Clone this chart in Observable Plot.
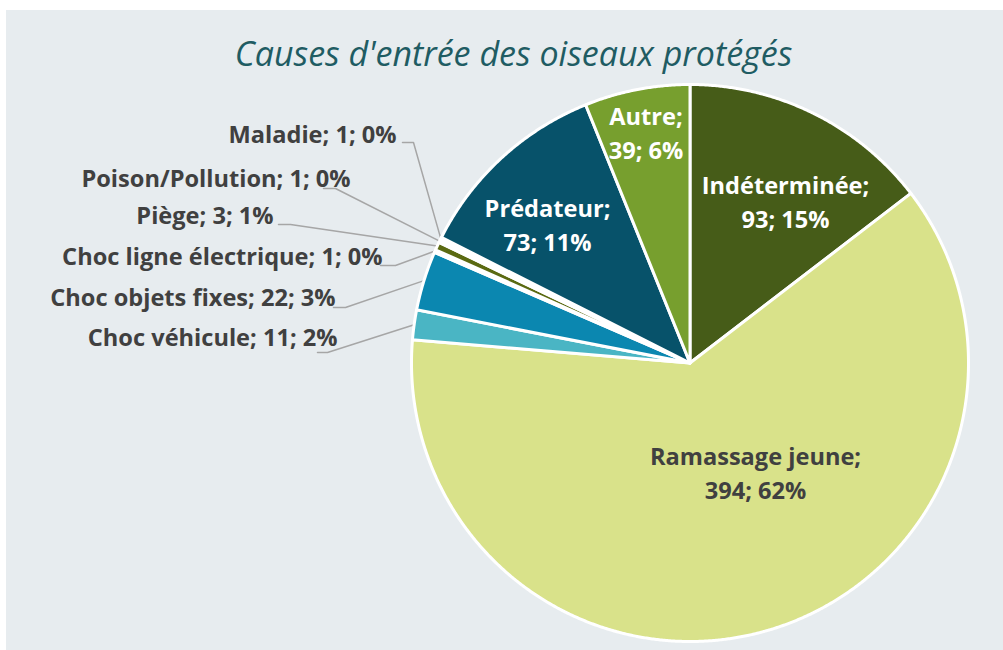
<!DOCTYPE html>
<html><head><meta charset="utf-8">
<script src="https://cdn.jsdelivr.net/npm/d3@7"></script>
<script src="https://cdn.jsdelivr.net/npm/@observablehq/plot@0.6"></script>
<style>
body{margin:0;background:#fff;}
#wrap{position:relative;width:1003px;height:650px;overflow:hidden;background:#fff;}
#panel{position:absolute;left:6px;top:10px;right:0;bottom:0;background:#e7ecef;}
#chart{position:absolute;left:0;top:0;}
</style></head><body><div id="wrap"><div id="panel"></div><div id="chart"></div></div>
<script>
// ---- data ----
const title = "Causes d'entrée des oiseaux protégés";
const categories = ["Indéterminée","Ramassage jeune","Choc véhicule","Choc objets fixes","Choc ligne électrique","Piège","Poison/Pollution","Maladie","Prédateur","Autre"];
const counts = [93, 394, 11, 22, 1, 3, 1, 1, 73, 39];
const percentLabels = ["15%","62%","2%","3%","0%","1%","0%","0%","11%","6%"];

// ---- styles ----
const colors = ["#465c18","#d9e28a","#4ab5c4","#0b87b0","#2f6f8f","#5b6a12","#8a9a3a","#9fb84a","#07526a","#779f2e"];
const W = 1003, H = 650;
const CX = 689.5, CY = 362.5, R = 278.5;   // pie placement in pixels
const FONT = "'Open Sans', sans-serif";
const LABEL_SIZE = 23.6;

// ---- layout (pie units; 1 = radius) ----
const toU = (px, py) => [(px - CX) / R, (CY - py) / R];
// inside labels: centre x, baseline of last line
const insideLabels = {
  "Indéterminée": {pos: toU(785, 227), fill: "white", text: "Indéterminée;\n93; 15%"},
  "Ramassage jeune": {pos: toU(755, 498), fill: "#404040", text: "Ramassage jeune;\n394; 62%"},
  "Prédateur": {pos: toU(547, 250), fill: "white", text: "Prédateur;\n73; 11%"},
  "Autre": {pos: toU(645.5, 158), fill: "white", text: "Autre;\n39; 6%"}
};
// outside labels: text right end + baseline, leader start, leader elbow
const outsideLabels = {
  "Maladie": {text: toU(396, 142), lead: [toU(402, 142), toU(413, 142)]},
  "Poison/Pollution": {text: toU(350, 186), lead: [toU(323, 188), toU(335, 188)]},
  "Piège": {text: toU(273, 223), lead: [toU(278, 224), toU(290, 224)]},
  "Choc ligne électrique": {text: toU(382, 264), lead: [toU(380, 265), toU(395, 265)]},
  "Choc objets fixes": {text: toU(335, 305), lead: [toU(333, 307), toU(345, 307)]},
  "Choc véhicule": {text: toU(337, 345), lead: [toU(317, 352), toU(327, 352)]}
};

// ---- geometry from data ----
const arcs = d3.pie().sort(null).value(d => d)(counts);
const slicePts = [];
arcs.forEach((a, i) => {
  const name = categories[i];
  slicePts.push({name, x: 0, y: 0});
  const n = Math.max(2, Math.ceil((a.endAngle - a.startAngle) / 0.005));
  for (let k = 0; k <= n; k++) {
    const t = a.startAngle + (a.endAngle - a.startAngle) * k / n;
    slicePts.push({name, x: Math.sin(t), y: Math.cos(t)});
  }
});

const insideData = [], outsideData = [], leaderPts = [];
arcs.forEach((a, i) => {
  const name = categories[i];
  const mid = (a.startAngle + a.endAngle) / 2;
  if (insideLabels[name]) {
    const L = insideLabels[name];
    insideData.push({name, x: L.pos[0], y: L.pos[1], text: L.text, fill: L.fill});
  } else if (outsideLabels[name]) {
    const L = outsideLabels[name];
    outsideData.push({name, x: L.text[0], y: L.text[1], text: `${name}; ${counts[i]}; ${percentLabels[i]}`});
    leaderPts.push({name, x: L.lead[0][0], y: L.lead[0][1]});
    leaderPts.push({name, x: L.lead[1][0], y: L.lead[1][1]});
    leaderPts.push({name, x: Math.sin(mid), y: Math.cos(mid)});
  }
});

const chart = Plot.plot({
  width: W, height: H,
  margin: 0,
  style: {background: "transparent", fontFamily: FONT},
  x: {domain: [-CX / R, (W - CX) / R], range: [0, W], axis: null},
  y: {domain: [-(H - CY) / R, CY / R], range: [H, 0], axis: null},
  color: {domain: categories, range: colors},
  marks: [
    Plot.line(leaderPts, {x: "x", y: "y", z: "name", stroke: "#a6a6a6", strokeWidth: 1.5}),
    Plot.line(slicePts, {x: "x", y: "y", z: "name", fill: "name", stroke: "white", strokeWidth: 3, strokeLinejoin: "round", curve: "linear-closed"}),
    Plot.text(insideData, {x: "x", y: "y", text: "text", fill: "fill", fontSize: LABEL_SIZE, fontWeight: "bold", lineAnchor: "bottom", lineHeight: 1.43, textAnchor: "middle", fontFamily: FONT}),
    Plot.text(outsideData, {x: "x", y: "y", text: "text", fill: "#404040", fontSize: LABEL_SIZE, fontWeight: "bold", lineAnchor: "bottom", textAnchor: "end", fontFamily: FONT}),
    Plot.text([title], {frameAnchor: "top", dx: 11.5, dy: 65, text: d => d, fill: "#1f5c63", fontSize: 34, fontStyle: "italic", lineAnchor: "bottom", fontFamily: FONT})
  ]
});
document.getElementById("chart").appendChild(chart);
</script></body></html>
